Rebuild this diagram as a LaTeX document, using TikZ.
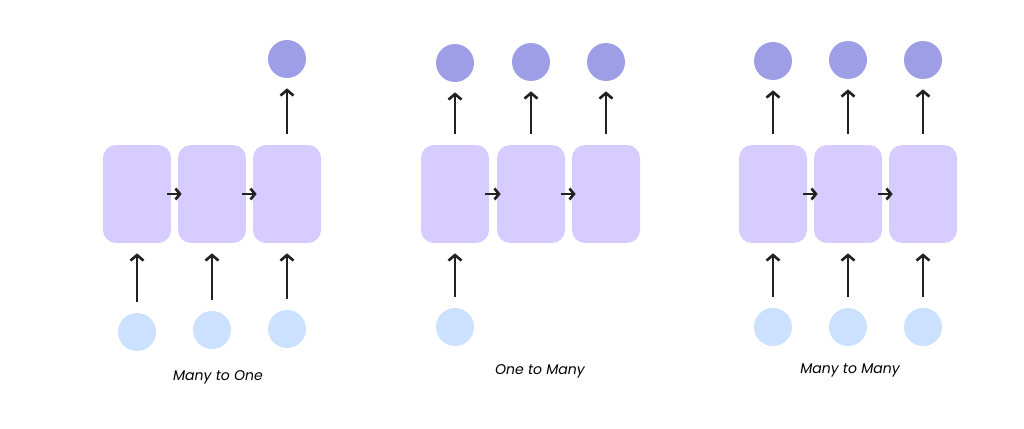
\documentclass[tikz,border=0pt]{standalone}
\usepackage{fontspec}
\setsansfont{Poppins}
\usetikzlibrary{arrows.meta}

\definecolor{cellfill}{HTML}{D6CCFF}
\definecolor{outfill}{HTML}{9E9EE6}
\definecolor{infill}{HTML}{CCE0FF}
\definecolor{arrowcol}{HTML}{222222}

\tikzset{
  cell/.style={fill=cellfill,rounded corners=0.26cm,minimum width=1.36cm,minimum height=1.96cm,inner sep=0pt},
  outdot/.style={circle,fill=outfill,minimum size=0.76cm,inner sep=0pt},
  indot/.style={circle,fill=infill,minimum size=0.76cm,inner sep=0pt},
  up/.style={draw=arrowcol,line width=1.5pt,-{Straight Barb[length=1.1mm,width=2.6mm]},shorten <=0.22cm,shorten >=0.2cm},
  side/.style={draw=arrowcol,line width=1.5pt,-{Straight Barb[length=0.9mm,width=2.2mm]},shorten <=-0.08cm,shorten >=-0.08cm},
  caption/.style={font=\sffamily\itshape\fontsize{8}{10}\selectfont}
}

\begin{document}
\begin{tikzpicture}[x=0.02cm,y=-0.02cm]
\useasboundingbox[fill=white] (0,0) rectangle (1024,429);

% many to one
\node[cell] (a1) at (137,194) {};
\node[cell] (a2) at (212,194) {};
\node[cell] (a3) at (287,194) {};
\node[indot] (ai1) at (137,332) {};
\node[indot] (ai2) at (212,330) {};
\node[indot] (ai3) at (287,329) {};
\node[outdot] (ao3) at (287,59) {};
\draw[side] (a1) -- (a2);
\draw[side] (a2) -- (a3);
\draw[up] (ai1) -- (a1);
\draw[up] (ai2) -- (a2);
\draw[up] (ai3) -- (a3);
\draw[up] (a3) -- (ao3);
\node[caption] (ta) at (218,377) {Many to One};

% one to many
\node[cell] (b1) at (455,194) {};
\node[cell] (b2) at (531,194) {};
\node[cell] (b3) at (606,194) {};
\node[indot] (bi1) at (455,327) {};
\node[outdot] (bo1) at (455,63) {};
\node[outdot] (bo2) at (531,62) {};
\node[outdot] (bo3) at (606,62) {};
\draw[side] (b1) -- (b2);
\draw[side] (b2) -- (b3);
\draw[up] (bi1) -- (b1);
\draw[up] (b1) -- (bo1);
\draw[up] (b2) -- (bo2);
\draw[up] (b3) -- (bo3);
\node[caption] (tb) at (540,371) {One to Many};

% many to many
\node[cell] (c1) at (773,194) {};
\node[cell] (c2) at (848,194) {};
\node[cell] (c3) at (923,194) {};
\node[indot] (ci1) at (773,327) {};
\node[indot] (ci2) at (848,327) {};
\node[indot] (ci3) at (923,327) {};
\node[outdot] (co1) at (773,61) {};
\node[outdot] (co2) at (848,60) {};
\node[outdot] (co3) at (923,60) {};
\draw[side] (c1) -- (c2);
\draw[side] (c2) -- (c3);
\draw[up] (ci1) -- (c1);
\draw[up] (ci2) -- (c2);
\draw[up] (ci3) -- (c3);
\draw[up] (c1) -- (co1);
\draw[up] (c2) -- (co2);
\draw[up] (c3) -- (co3);
\node[caption] (tc) at (850,370) {Many to Many};

\end{tikzpicture}
\end{document}
